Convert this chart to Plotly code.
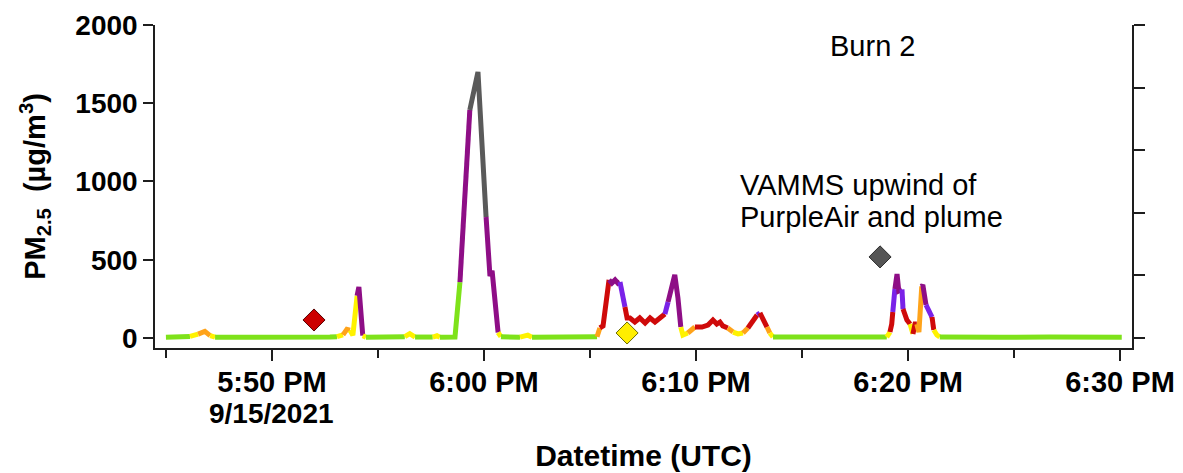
import plotly.graph_objects as go

DAY = "2021-09-15"

# PM2.5 time series (UTC clock time, µg/m3) and the colour class of the
# segment that starts at each point
times = [
    "17:45:00", "17:45:25", "17:45:54", "17:46:08", "17:46:31", "17:46:50", "17:47:05", "17:47:19",
    "17:48:29", "17:49:54", "17:51:19", "17:52:44", "17:53:04", "17:53:21", "17:53:32", "17:53:41",
    "17:53:49", "17:54:01", "17:54:06", "17:54:17", "17:54:26", "17:55:34", "17:56:16", "17:56:30",
    "17:56:45", "17:57:35", "17:57:47", "17:57:55", "17:58:38", "17:58:52", "17:59:20", "17:59:43",
    "18:00:06", "18:00:14", "18:00:17", "18:00:23", "18:00:40", "18:00:48", "18:01:42", "18:01:56",
    "18:02:04", "18:02:16", "18:03:35", "18:05:00", "18:05:20", "18:05:28", "18:05:37", "18:05:54",
    "18:06:02", "18:06:11", "18:06:19", "18:06:25", "18:06:33", "18:06:39", "18:06:45", "18:06:53",
    "18:07:07", "18:07:21", "18:07:36", "18:07:50", "18:08:04", "18:08:18", "18:08:32", "18:08:41",
    "18:08:52", "18:09:00", "18:09:09", "18:09:17", "18:09:23", "18:09:37", "18:09:57", "18:10:17",
    "18:10:34", "18:10:48", "18:10:59", "18:11:08", "18:11:16", "18:11:30", "18:11:45", "18:11:59",
    "18:12:13", "18:12:27", "18:12:41", "18:12:53", "18:13:01", "18:13:10", "18:13:21", "18:13:29",
    "18:13:38", "18:14:54", "18:16:19", "18:17:44", "18:19:00", "18:19:09", "18:19:14", "18:19:17",
    "18:19:23", "18:19:29", "18:19:34", "18:19:43", "18:19:46", "18:19:57", "18:20:06", "18:20:14",
    "18:20:20", "18:20:25", "18:20:31", "18:20:39", "18:20:42", "18:20:51", "18:20:59", "18:21:08",
    "18:21:13", "18:21:22", "18:21:30", "18:22:27", "18:24:20", "18:26:42", "18:28:35", "18:30:05",
]
pm25 = [
    5, 4, 6, 10, 25, 42, 15, 5,
    4, 5, 4, 6, 8, 20, 55, 50,
    18, 270, 326, 15, 5, 5, 8, 28,
    6, 6, 14, 5, 6, 357, 1457, 1700,
    773, 450, 395, 430, 35, 8, 5, 10,
    18, 5, 5, 4, 8, 64, 77, 371,
    351, 371, 350, 358, 262, 198, 128, 128,
    102, 128, 96, 128, 102, 128, 153, 230,
    339, 403, 256, 70, 19, 32, 70, 70,
    83, 115, 89, 102, 77, 64, 38, 26,
    32, 64, 102, 147, 160, 115, 70, 32,
    6, 5, 4, 5, 6, 38, 89, 166,
    313, 409, 300, 310, 185, 115, 89, 26,
    89, 89, 38, 330, 339, 211, 166, 134,
    51, 19, 6, 8, 5, 6, 4, 5,
]
seg_class = [
    "g", "g", "g", "y", "o", "o", "y", "g",
    "g", "g", "g", "g", "y", "o", "o", "y",
    "y", "p", "p", "y", "g", "g", "y", "y",
    "g", "y", "y", "g", "g", "p", "k", "k",
    "p", "p", "p", "p", "y", "g", "y", "y",
    "y", "g", "g", "g", "o", "r", "r", "p",
    "p", "p", "p", "v", "v", "r", "r", "r",
    "r", "r", "r", "r", "r", "r", "v", "p",
    "p", "p", "p", "y", "y", "o", "r", "r",
    "r", "r", "r", "r", "r", "o", "y", "y",
    "o", "r", "r", "v", "r", "r", "o", "y",
    "g", "g", "g", "g", "y", "r", "r", "v",
    "p", "p", "p", "v", "r", "r", "y", "r",
    "r", "o", "o", "p", "p", "v", "v", "r",
    "y", "y", "g", "g", "g", "g", "g", "g",
]

palette = {
    "g": "#7EE21A",
    "y": "#FFF200",
    "o": "#FFA31A",
    "r": "#CF0A0A",
    "v": "#7A22E8",
    "p": "#8E0E86",
    "k": "#5A5A5A",
}

# Sampling events marked on the timeline
event_times = ["17:51:59", "18:06:45", "18:18:41"]
event_values = [115, 32, 518]
event_fill = ["#CC0000", "#FFEE00", "#555555"]
event_edge = ["#5A0000", "#6B6B00", "#2E2E2E"]

# Axis ticks
x_tickvals = ["17:50:00", "18:00:00", "18:10:00", "18:20:00", "18:30:00"]
x_ticktext = ["5:50 PM", "6:00 PM", "6:10 PM", "6:20 PM", "6:30 PM"]
date_label = "9/15/2021"
y_tickvals = [0, 500, 1000, 1500, 2000]
y2_tickvals = [0, 400, 800, 1200, 1600, 2000]

FONT = "Liberation Sans, Arial, sans-serif"
AXIS_COLOR = "#1E1E1E"


def stamp(t):
    return f"{DAY} {t}"


xs = [stamp(t) for t in times]

fig = go.Figure()

# One trace per run of equally coloured segments
i = 0
n = len(xs)
while i < n - 1:
    j = i
    while j + 1 < n - 1 and seg_class[j + 1] == seg_class[i]:
        j += 1
    fig.add_trace(go.Scatter(
        x=xs[i:j + 2], y=pm25[i:j + 2], mode="lines",
        line=dict(color=palette[seg_class[i]], width=5),
        showlegend=False, hoverinfo="skip",
    ))
    i = j + 1

fig.add_trace(go.Scatter(
    x=[stamp(t) for t in event_times], y=event_values, mode="markers",
    marker=dict(symbol="diamond", size=17, color=event_fill,
                line=dict(color=event_edge, width=1)),
    showlegend=False, hoverinfo="skip",
))

# Carrier for the right-hand mirror axis
fig.add_trace(go.Scatter(x=[None], y=[None], yaxis="y2", showlegend=False, hoverinfo="skip"))

y_range = [-64, 2000]
note_font = dict(size=29, family=FONT, color="black")

fig.update_layout(
    width=1183, height=473,
    margin=dict(l=155, r=51, t=25, b=125),
    paper_bgcolor="white", plot_bgcolor="white",
    font=dict(family=FONT, color="black"),
    xaxis=dict(
        type="date", automargin=False,
        range=[stamp("17:44:29"), stamp("18:30:34")],
        tickvals=[stamp(t) for t in x_tickvals], ticktext=x_ticktext,
        tickfont=dict(size=29, weight="bold"), ticklabelstandoff=-4,
        ticks="outside", ticklen=11, tickwidth=1.5, tickcolor=AXIS_COLOR,
        minor=dict(dtick=300000, tick0=stamp("17:45:00"), ticks="outside",
                   ticklen=8, tickwidth=1.5, tickcolor=AXIS_COLOR, showgrid=False),
        showline=True, linecolor=AXIS_COLOR, linewidth=1.5,
        showgrid=False, zeroline=False,
        title=dict(text="Datetime (UTC)", font=dict(size=30, weight="bold"), standoff=48),
    ),
    yaxis=dict(
        range=y_range, tickvals=y_tickvals, automargin=False,
        tickfont=dict(size=28, weight="bold"),
        ticks="outside", ticklen=10, tickwidth=1.5, tickcolor=AXIS_COLOR,
        showline=True, linecolor=AXIS_COLOR, linewidth=1.5,
        showgrid=False, zeroline=False,
        title=dict(text="PM<sub>2.5</sub>  (µg/m<sup>3</sup>)",
                   font=dict(size=29, weight="bold"), standoff=21),
    ),
    yaxis2=dict(
        range=y_range, overlaying="y", side="right", automargin=False,
        tickvals=y2_tickvals, showticklabels=False,
        ticks="outside", ticklen=11, tickwidth=1.5, tickcolor=AXIS_COLOR,
        showline=True, linecolor=AXIS_COLOR, linewidth=1.5,
        showgrid=False, zeroline=False,
    ),
    annotations=[
        dict(text=date_label, x=stamp(x_tickvals[0]), y=-0.204, xref="x", yref="paper",
             showarrow=False, xanchor="center", yanchor="middle",
             font=dict(size=28, family=FONT, color="black", weight="bold")),
        dict(text="Burn 2", x=stamp("18:16:14"), y=1865, xref="x", yref="y",
             showarrow=False, xanchor="left", yanchor="middle", font=note_font),
        dict(text="VAMMS upwind of", x=stamp("18:11:59"), y=978, xref="x", yref="y",
             showarrow=False, xanchor="left", yanchor="middle", font=note_font),
        dict(text="PurpleAir and plume", x=stamp("18:11:59"), y=773, xref="x", yref="y",
             showarrow=False, xanchor="left", yanchor="middle", font=note_font),
    ],
)

fig.write_html("out.html")
